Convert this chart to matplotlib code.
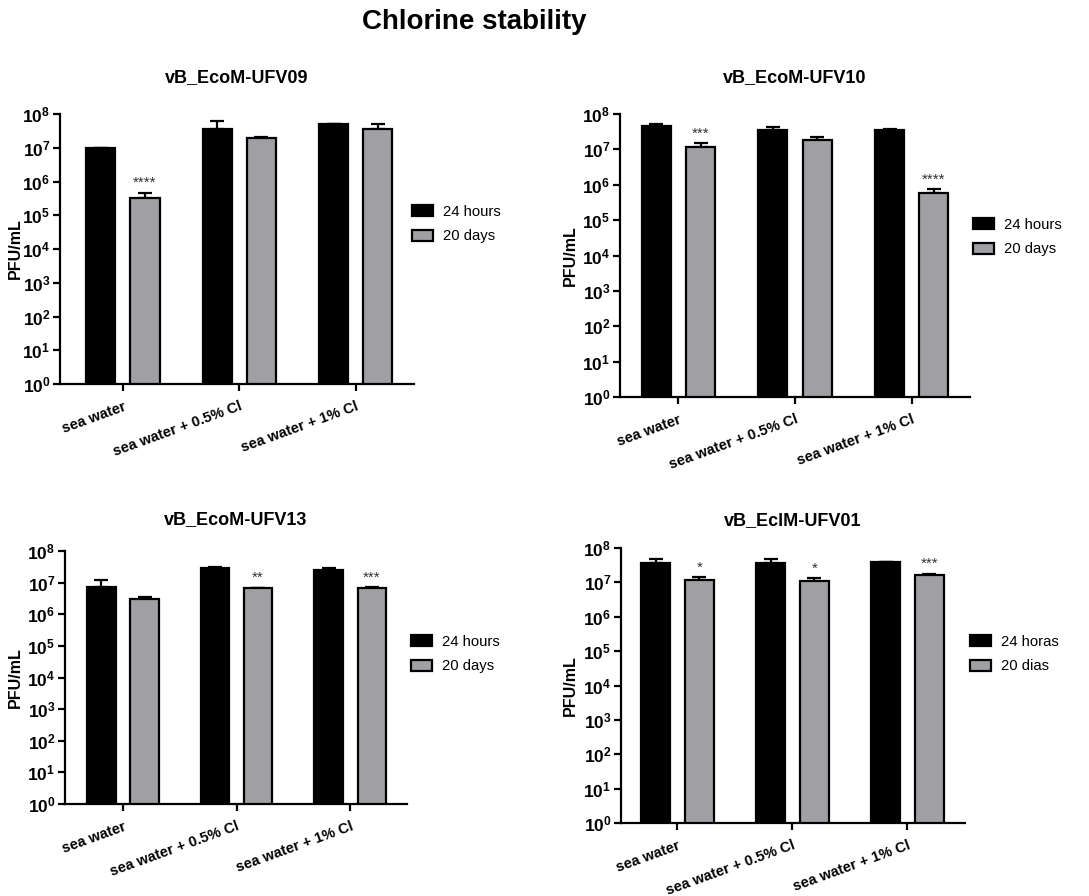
import numpy as np
import matplotlib
matplotlib.use("Agg")
import matplotlib.pyplot as plt
from matplotlib.patches import Patch
from matplotlib.ticker import FixedLocator, FuncFormatter, NullLocator

plt.rcParams['font.family'] = ['Liberation Sans', 'DejaVu Sans']
plt.rcParams['mathtext.fontset'] = 'custom'
plt.rcParams['mathtext.rm'] = 'Liberation Sans'
plt.rcParams['mathtext.bf'] = 'Liberation Sans:bold'
plt.rcParams['mathtext.it'] = 'Liberation Sans:italic'

# ---------------- data ----------------
categories = ['sea water', 'sea water + 0.5% Cl', 'sea water + 1% Cl']

ufv09_24h = [9.6e6, 3.7e7, 5.0e7]
ufv09_24h_err = [0.3e6, 2.5e7, 0.1e7]
ufv09_20d = [3.3e5, 2.0e7, 3.7e7]
ufv09_20d_err = [1.4e5, 0.05e7, 1.4e7]
ufv09_stars = ['****', '', '']

ufv10_24h = [4.6e7, 3.45e7, 3.5e7]
ufv10_24h_err = [0.5e7, 0.75e7, 0.3e7]
ufv10_20d = [1.2e7, 1.8e7, 6.0e5]
ufv10_20d_err = [0.3e7, 0.5e7, 1.5e5]
ufv10_stars = ['***', '', '****']

ufv13_24h = [7.1e6, 2.8e7, 2.6e7]
ufv13_24h_err = [4.9e6, 0.4e7, 0.4e7]
ufv13_20d = [3.0e6, 6.6e6, 6.9e6]
ufv13_20d_err = [0.4e6, 0.3e6, 0.2e6]
ufv13_stars = ['', '**', '***']

ufv01_24h = [3.7e7, 3.7e7, 3.85e7]
ufv01_24h_err = [1.0e7, 1.0e7, 0.15e7]
ufv01_20d = [1.2e7, 1.1e7, 1.6e7]
ufv01_20d_err = [0.2e7, 0.25e7, 0.2e7]
ufv01_stars = ['*', '*', '***']

panel_titles = ['vB_EcoM-UFV09', 'vB_EcoM-UFV10', 'vB_EcoM-UFV13', 'vB_EclM-UFV01']
legend_en = ['24 hours', '20 days']
legend_pt = ['24 horas', '20 dias']
main_title = 'Chlorine stability'
ylabel = 'PFU/mL'

# ---------------- layout ----------------
W, H = 1089, 896
fig = plt.figure(figsize=(W / 100, H / 100), dpi=100)

def frac_rect(l, r, t, b):
    return [l / W, 1 - b / H, (r - l) / W, (b - t) / H]

panels = [
    dict(rect=frac_rect(60, 414, 114, 384), xlim=(-0.54, 2.5),
         d24=ufv09_24h, e24=ufv09_24h_err, d20=ufv09_20d, e20=ufv09_20d_err,
         stars=ufv09_stars, title=panel_titles[0], title_y=78, leg=legend_en,
         leg_xy=(412, 205), ylab_x=-0.105),
    dict(rect=frac_rect(620, 970, 114, 397), xlim=(-0.5, 2.5),
         d24=ufv10_24h, e24=ufv10_24h_err, d20=ufv10_20d, e20=ufv10_20d_err,
         stars=ufv10_stars, title=panel_titles[1], title_y=78, leg=legend_en,
         leg_xy=(973, 218), ylab_x=-0.12),
    dict(rect=frac_rect(65, 407, 551, 804), xlim=(-0.51, 2.5),
         d24=ufv13_24h, e24=ufv13_24h_err, d20=ufv13_20d, e20=ufv13_20d_err,
         stars=ufv13_stars, title=panel_titles[2], title_y=520, leg=legend_en,
         leg_xy=(411, 635), ylab_x=-0.123),
    dict(rect=frac_rect(621, 965, 548, 823), xlim=(-0.49, 2.5),
         d24=ufv01_24h, e24=ufv01_24h_err, d20=ufv01_20d, e20=ufv01_20d_err,
         stars=ufv01_stars, title=panel_titles[3], title_y=521, leg=legend_pt,
         leg_xy=(970, 635), ylab_x=-0.125),
]

BLACK = '#000000'
GRAY = '#A0A0A4'
off = 0.19
bw = 0.25
lw = 1.6

def fmt(v, pos):
    e = int(round(np.log10(v)))
    return r'$\mathbf{10^{%d}}$' % e

for p in panels:
    ax = fig.add_axes(p['rect'])
    x = np.arange(len(categories))
    ax.bar(x - off, p['d24'], width=bw, color=BLACK, edgecolor=BLACK, linewidth=lw, zorder=2)
    ax.bar(x + off, p['d20'], width=bw, color=GRAY, edgecolor=BLACK, linewidth=lw, zorder=2)
    ax.errorbar(x - off, p['d24'], yerr=[np.zeros(3), p['e24']], fmt='none', ecolor=BLACK,
                elinewidth=lw, capsize=5, capthick=lw, zorder=1)
    ax.errorbar(x + off, p['d20'], yerr=[np.zeros(3), p['e20']], fmt='none', ecolor=BLACK,
                elinewidth=lw, capsize=5, capthick=lw, zorder=1)
    for xi, v, e, s in zip(x + off, p['d20'], p['e20'], p['stars']):
        if s:
            ax.annotate(s, xy=(xi, v + e), xytext=(0, 4), textcoords='offset points',
                        ha='center', va='baseline', fontsize=11, color='#333333')
    ax.set_yscale('log')
    ax.set_ylim(1, 1e8)
    ax.set_xlim(*p['xlim'])
    ax.yaxis.set_major_locator(FixedLocator([10.0 ** k for k in range(9)]))
    ax.yaxis.set_minor_locator(NullLocator())
    ax.yaxis.set_major_formatter(FuncFormatter(fmt))
    ax.set_xticks(x)
    ax.set_xticklabels(categories, rotation=20, ha='right', rotation_mode='anchor',
                       fontsize=10.5, fontweight='bold')
    ax.tick_params(axis='both', direction='out', length=5, width=lw, pad=2)
    ax.tick_params(axis='y', labelsize=12.5)
    ax.tick_params(axis='x', pad=6, labelsize=10.5)
    for sp in ['top', 'right']:
        ax.spines[sp].set_visible(False)
    for sp in ['left', 'bottom']:
        ax.spines[sp].set_linewidth(lw)
    ax.set_ylabel(ylabel, fontsize=11.5, fontweight='bold')
    ax.yaxis.set_label_coords(p['ylab_x'], 0.5)
    cx = (p['rect'][0] + p['rect'][2] / 2)
    fig.text(cx, 1 - p['title_y'] / H, p['title'], ha='center', va='center',
             fontsize=13, fontweight='bold')
    handles = [Patch(facecolor=BLACK, edgecolor=BLACK, linewidth=lw),
               Patch(facecolor=GRAY, edgecolor=BLACK, linewidth=lw)]
    lx, ly = p['leg_xy']
    fig.legend(handles, p['leg'], loc='upper left', bbox_to_anchor=(lx / W, 1 - ly / H),
               frameon=False, borderpad=0, borderaxespad=0, fontsize=10.7,
               handlelength=1.4, handleheight=0.75, handletextpad=0.7, labelspacing=0.7)

fig.text(474 / W, 1 - 22 / H, main_title, ha='center', va='center',
         fontsize=20, fontweight='bold')

fig.savefig('out.png', dpi=100)
